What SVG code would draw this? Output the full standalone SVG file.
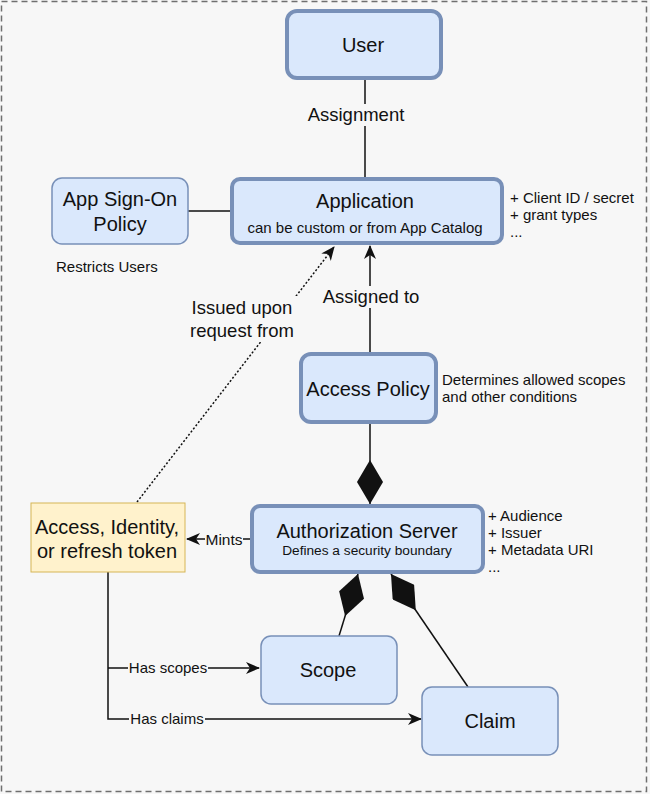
<svg xmlns="http://www.w3.org/2000/svg" width="650" height="794" viewBox="0 0 650 794">
<style>
text{font-family:"Liberation Sans",Arial,sans-serif;fill:#111;}
.big{font-size:20px;text-anchor:middle;}
.mid{font-size:18.5px;text-anchor:middle;}
.sm{font-size:15px;}
.box{fill:#dae8fc;stroke:#7890b8;}
.thick{stroke-width:4;}
.thin{stroke-width:1.5;}
.ln{fill:none;stroke:#111;stroke-width:1.5;}
.lbl{fill:#f7f7f7;}
</style>
<defs>
<marker id="dia" viewBox="0 0 44 26" refX="44" refY="13" markerWidth="44" markerHeight="26" markerUnits="userSpaceOnUse" orient="auto">
<path d="M0,13 L22,0 L44,13 L22,26 Z" fill="#111"/>
</marker>
<marker id="arr" viewBox="0 0 14 12" refX="13" refY="6" markerWidth="14" markerHeight="12" markerUnits="userSpaceOnUse" orient="auto">
<path d="M0,0 L14,6 L0,12 L4,6 Z" fill="#111"/>
</marker>
</defs>
<rect x="0" y="0" width="650" height="794" fill="#f7f7f7"/>
<rect x="1.5" y="1.5" width="645" height="790" fill="none" stroke="#6f6f6f" stroke-width="1.5" stroke-dasharray="6 4"/>

<g id="connectors">
<path class="ln" d="M365,79 L365,178"/>
<rect class="lbl" x="305" y="104" width="102" height="22"/>
<text class="mid" x="356" y="121">Assignment</text>
<path class="ln" d="M188,211 L231,211"/>
<path class="ln" d="M370,352 L370,246" marker-end="url(#arr)"/>
<rect class="lbl" x="320" y="286" width="102" height="22"/>
<text class="mid" x="371" y="303">Assigned to</text>
<path class="ln" d="M137,502 L334,247" stroke-dasharray="2 2" marker-end="url(#arr)"/>
<rect class="lbl" x="186" y="296" width="114" height="46"/>
<text class="mid" x="242" y="314">Issued upon</text>
<text class="mid" x="242" y="337">request from</text>
<path class="ln" d="M370,423 L370,504" marker-end="url(#dia)"/>
<path class="ln" d="M339,636 L358,574" marker-end="url(#dia)"/>
<path class="ln" d="M468,687 L391,574" marker-end="url(#dia)"/>
<path class="ln" d="M250,539 L187,539" marker-end="url(#arr)"/>
<rect class="lbl" x="205" y="530" width="38" height="18"/>
<text x="224" y="545" font-size="15.5" text-anchor="middle">Mints</text>
<path class="ln" d="M108,572 L108,719 L421,719" marker-end="url(#arr)"/>
<path class="ln" d="M108,668 L259,668" marker-end="url(#arr)"/>
<rect class="lbl" x="128" y="660" width="80" height="17"/>
<text class="sm" x="168" y="673" text-anchor="middle">Has scopes</text>
<rect class="lbl" x="129" y="711" width="76" height="17"/>
<text class="sm" x="167" y="724" text-anchor="middle">Has claims</text>
</g>

<g id="user">
<rect class="box thick" x="287" y="11" width="154" height="67" rx="10"/>
<text class="big" x="363" y="52">User</text>
</g>

<g id="application">
<rect class="box thick" x="232" y="179" width="270" height="64" rx="8"/>
<text class="big" x="365" y="208">Application</text>
<text class="sm" x="365" y="233" text-anchor="middle">can be custom or from App Catalog</text>
<text class="sm" x="510" y="203">+ Client ID / secret</text>
<text class="sm" x="510" y="220">+ grant types</text>
<text class="sm" x="510" y="237">...</text>
</g>

<g id="app-sign-on-policy">
<rect class="box thin" x="52" y="178" width="136" height="66" rx="10"/>
<text class="big" x="120" y="206">App Sign-On</text>
<text class="big" x="120" y="231">Policy</text>
<text class="sm" x="56" y="272">Restricts Users</text>
</g>

<g id="access-policy">
<rect class="box thick" x="301" y="354" width="135" height="68" rx="10"/>
<text class="big" x="368" y="396">Access Policy</text>
<text class="sm" x="442" y="385">Determines allowed scopes</text>
<text class="sm" x="442" y="402">and other conditions</text>
</g>

<g id="authorization-server">
<rect class="box thick" x="252" y="506" width="231" height="66" rx="8"/>
<text class="big" x="367" y="538">Authorization Server</text>
<text x="367" y="555" font-size="13.7" text-anchor="middle">Defines a security boundary</text>
<text class="sm" x="488" y="521">+ Audience</text>
<text class="sm" x="488" y="538">+ Issuer</text>
<text class="sm" x="488" y="555">+ Metadata URI</text>
<text class="sm" x="488" y="572">...</text>
</g>

<g id="token">
<rect x="31" y="503" width="154" height="69" fill="#fff2cc" stroke="#d6b656" stroke-width="1"/>
<text class="big" x="107" y="534">Access, Identity,</text>
<text class="big" x="107" y="558">or refresh token</text>
</g>

<g id="scope">
<rect class="box thin" x="261" y="636" width="136" height="68" rx="10"/>
<text class="big" x="328" y="677">Scope</text>
</g>

<g id="claim">
<rect class="box thin" x="422" y="687" width="136" height="68" rx="10"/>
<text class="big" x="490" y="728">Claim</text>
</g>
</svg>
